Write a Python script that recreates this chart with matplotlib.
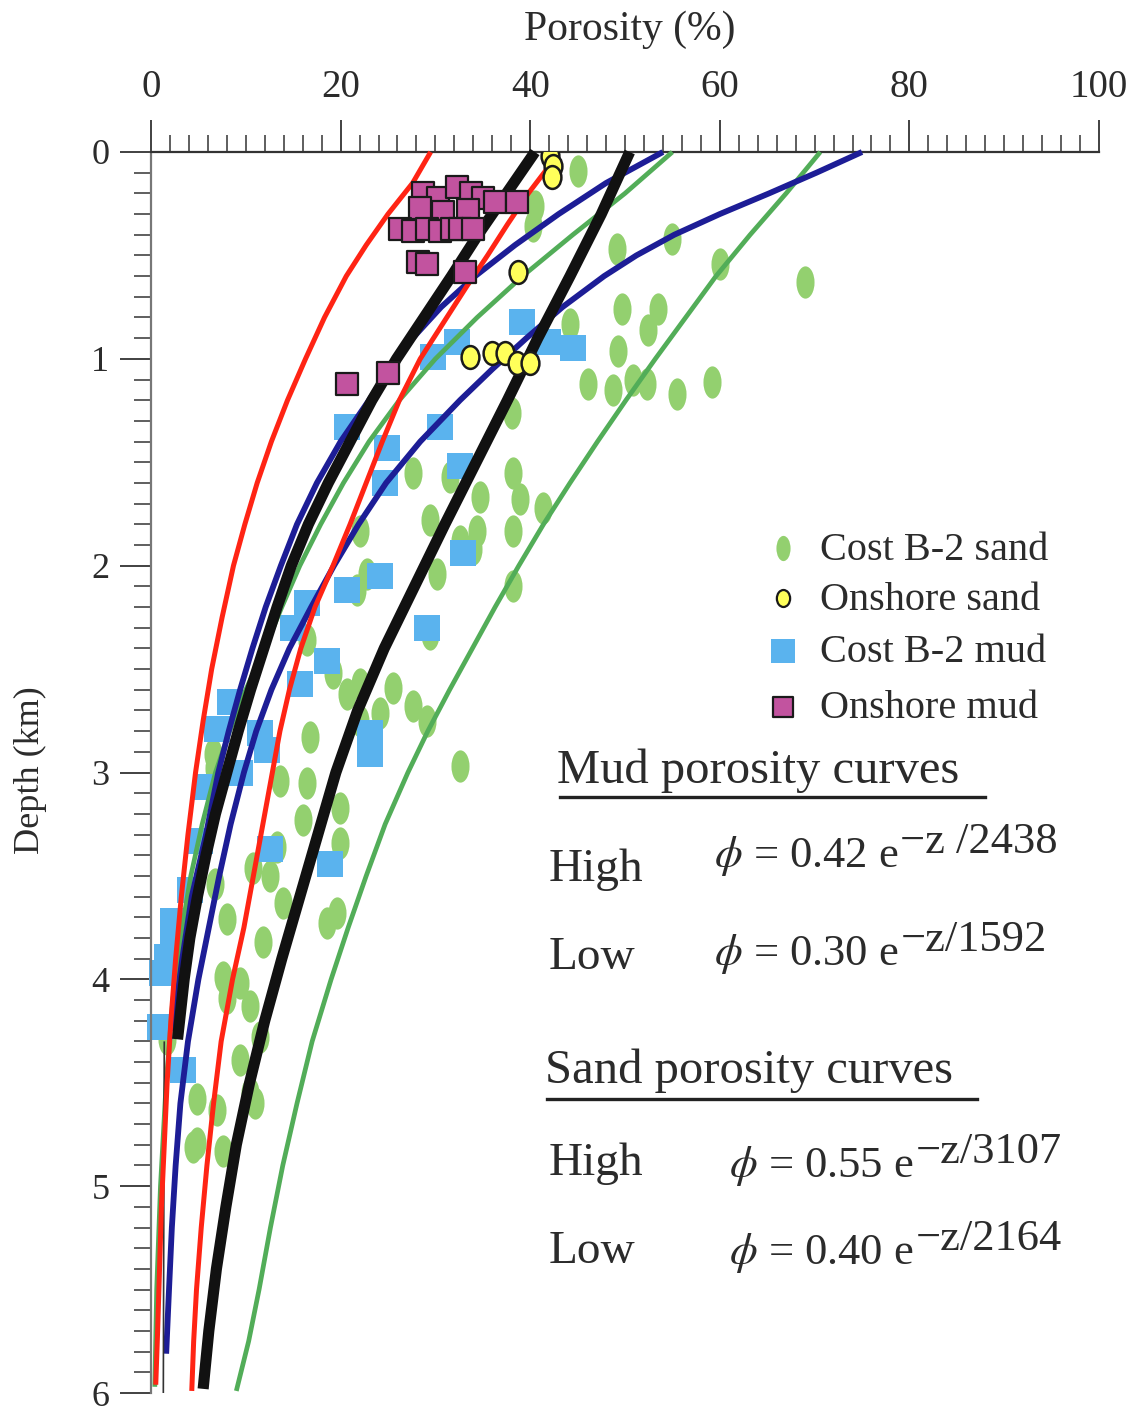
import matplotlib
matplotlib.use("Agg")
import matplotlib.pyplot as plt
from matplotlib.markers import MarkerStyle
from matplotlib.transforms import Affine2D

plt.rcParams['font.family'] = ['Liberation Serif', 'DejaVu Serif']
plt.rcParams['mathtext.fontset'] = 'stix'

TXT = '#2b2b2b'

# ---------------- data (porosity %, depth km) ----------------
red_a_z = [0, 0.15, 0.30, 0.45, 0.60, 0.80, 1.00, 1.20, 1.40, 1.60, 1.80, 2.00, 2.25, 2.50, 2.75, 3.00, 3.30, 3.60, 3.90, 4.20, 4.50, 4.80, 5.10, 5.40, 5.70, 5.96]
red_a_x = [29.5, 27.6, 25.0, 22.7, 20.6, 18.3, 16.3, 14.4, 12.7, 11.2, 9.9, 8.7, 7.5, 6.4, 5.5, 4.7, 3.9, 3.2, 2.6, 2.1, 1.7, 1.4, 1.1, 0.9, 0.7, 0.5]

red_b_z = [0.08, 0.20, 0.35, 0.50, 0.65, 0.80, 1.00, 1.20, 1.40, 1.60, 1.80, 2.00, 2.20, 2.40, 2.60, 2.80, 3.00, 3.25, 3.50, 3.75, 4.00, 4.30, 4.60, 4.90, 5.20, 5.50, 5.75, 5.99]
red_b_x = [41.8, 39.8, 37.6, 35.5, 33.3, 31.2, 28.4, 26.2, 24.4, 22.7, 21.0, 19.2, 17.3, 15.8, 14.6, 13.6, 12.8, 11.8, 10.8, 9.8, 8.6, 7.4, 6.6, 5.9, 5.3, 4.8, 4.5, 4.3]

black_a_z = [0, 0.20, 0.40, 0.60, 0.80, 1.00, 1.20, 1.40, 1.60, 1.80, 2.00, 2.20, 2.40, 2.60, 2.80, 3.00, 3.20, 3.40, 3.60, 3.80, 4.00, 4.29]
black_a_x = [40.5, 37.5, 34.5, 31.7, 28.8, 25.9, 23.3, 21.0, 18.7, 16.6, 14.8, 13.3, 11.9, 10.5, 9.2, 8.0, 6.8, 5.8, 4.9, 4.1, 3.5, 2.8]

black_b_z = [0, 0.30, 0.60, 0.90, 1.20, 1.50, 1.80, 2.10, 2.40, 2.70, 3.00, 3.30, 3.60, 3.90, 4.20, 4.50, 4.80, 5.10, 5.40, 5.70, 5.98]
black_b_x = [50.5, 47.5, 44.2, 40.8, 37.6, 34.3, 31.0, 27.8, 24.6, 21.8, 19.5, 17.6, 15.7, 13.8, 12.0, 10.4, 9.0, 7.9, 6.9, 6.1, 5.5]

blue_a_z = [0, 0.15, 0.30, 0.45, 0.60, 0.75, 0.90, 1.05, 1.20, 1.40, 1.60, 1.80, 2.00, 2.20, 2.40, 2.60, 2.80, 3.00, 3.30, 3.60, 3.90, 4.25]
blue_a_x = [54.0, 48.0, 43.0, 38.4, 34.2, 30.6, 27.6, 25.2, 23.0, 20.0, 17.5, 15.4, 13.7, 12.1, 10.7, 9.4, 8.2, 7.1, 5.8, 4.3, 3.3, 2.3]

blue_b_z = [0, 0.10, 0.20, 0.30, 0.40, 0.50, 0.60, 0.75, 0.90, 1.05, 1.20, 1.40, 1.60, 1.80, 2.00, 2.20, 2.40, 2.60, 2.80, 3.00, 3.25, 3.50, 3.75, 4.00, 4.30, 4.60, 4.90, 5.20, 5.50, 5.81]
blue_b_x = [75.0, 70.2, 65.2, 60.0, 55.2, 51.2, 47.8, 43.4, 39.6, 36.0, 32.6, 28.4, 24.8, 21.9, 19.3, 16.9, 14.6, 12.7, 11.1, 9.8, 8.4, 7.2, 6.1, 5.0, 3.9, 3.1, 2.6, 2.2, 1.9, 1.6]

green_a_z = [0, 0.20, 0.40, 0.60, 0.80, 1.00, 1.20, 1.40, 1.60, 1.80, 2.00, 2.20, 2.40, 2.60, 2.80, 3.00, 3.25, 3.50, 3.80, 4.10, 4.50, 5.00, 5.50, 5.97]
green_a_x = [55.0, 50.0, 44.5, 39.2, 34.4, 30.0, 26.2, 23.0, 20.3, 17.9, 15.7, 13.8, 12.0, 10.0, 8.3, 6.8, 5.4, 4.2, 3.1, 2.3, 1.6, 1.0, 0.6, 0.4]

green_b_z = [0, 0.20, 0.40, 0.60, 0.80, 1.00, 1.20, 1.40, 1.60, 1.80, 2.00, 2.20, 2.40, 2.60, 2.80, 3.00, 3.25, 3.50, 3.75, 4.00, 4.30, 4.60, 4.90, 5.20, 5.50, 5.75, 5.99]
green_b_x = [70.6, 67.0, 63.2, 59.6, 56.4, 53.2, 50.1, 47.1, 44.2, 41.4, 38.8, 36.3, 33.9, 31.5, 29.2, 27.1, 24.7, 22.7, 20.8, 19.0, 17.0, 15.4, 13.9, 12.6, 11.4, 10.3, 9.0]

thin_z = [4.30, 6.00]
thin_x = [1.4, 1.3]

# Cost B-2 sand
sand_b2_x = [45.0, 40.5, 40.3, 49.2, 55.0, 60.0, 69.0, 49.7, 53.5, 52.4, 44.2, 49.3, 46.1, 48.7, 50.8, 52.3, 55.5, 59.2, 38.1,
             27.6, 31.5, 38.2, 38.9, 34.7, 41.4, 29.4, 22.0, 34.4, 38.2, 32.6, 34.0, 22.8, 30.2, 38.2, 21.7, 29.4, 16.5,
             19.2, 22.0, 20.7, 25.5, 27.6, 29.1, 24.2, 16.8, 22.0, 32.6, 13.6, 16.5, 6.5, 6.6,
             19.9, 16.0, 19.9, 13.3, 12.6, 10.8, 6.8, 13.9, 19.6, 18.6, 8.0, 11.8, 7.6, 9.4, 10.4, 8.0, 11.5, 9.4, 10.4,
             4.9, 11.0, 7.0, 4.9, 4.4, 7.6, 1.7]
sand_b2_z = [0.09, 0.26, 0.36, 0.47, 0.42, 0.54, 0.63, 0.76, 0.76, 0.86, 0.83, 0.96, 1.12, 1.15, 1.10, 1.12, 1.17, 1.11, 1.26,
             1.55, 1.57, 1.55, 1.68, 1.67, 1.72, 1.78, 1.83, 1.83, 1.83, 1.88, 1.92, 2.04, 2.04, 2.10, 2.12, 2.33, 2.36,
             2.52, 2.57, 2.62, 2.59, 2.68, 2.75, 2.71, 2.83, 2.75, 2.97, 3.04, 3.05, 2.91, 2.98,
             3.17, 3.23, 3.34, 3.36, 3.50, 3.46, 3.54, 3.63, 3.68, 3.73, 3.71, 3.82, 3.99, 4.02, 4.13, 4.09, 4.28, 4.39, 4.55,
             4.58, 4.60, 4.63, 4.79, 4.81, 4.83, 4.29]

# Onshore sand
sand_on_x = [42.1, 42.4, 42.3, 38.7, 33.7, 36.0, 37.3, 38.6, 40.0]
sand_on_z = [0.02, 0.07, 0.12, 0.58, 0.99, 0.97, 0.97, 1.02, 1.02]

# Cost B-2 mud
mud_b2_x = [39.1, 41.9, 44.5, 32.3, 29.7, 20.7, 30.5, 24.9, 32.6, 24.7, 32.9, 24.2, 20.7, 16.5, 15.0, 18.6, 29.1, 15.7,
            8.3, 7.0, 11.5, 12.2, 23.1, 23.1, 5.9, 9.4, 5.2, 12.6, 18.9, 4.1, 2.3, 1.7, 0.9, 3.4, 2.3, 1.2]
mud_b2_z = [0.82, 0.92, 0.95, 0.92, 0.99, 1.33, 1.33, 1.43, 1.52, 1.60, 1.94, 2.05, 2.12, 2.18, 2.30, 2.46, 2.30, 2.57,
            2.66, 2.79, 2.81, 2.89, 2.81, 2.91, 3.07, 3.00, 3.33, 3.37, 3.44, 3.57, 3.80, 3.89, 4.23, 4.44, 3.72, 3.97]

# Onshore mud
mud_on_x = [28.7, 30.3, 32.3, 33.8, 35.0, 36.3, 38.6, 28.4, 30.8, 33.4, 26.3, 27.6, 29.1, 30.5, 31.7, 32.6, 34.0,
            28.2, 29.1, 33.1, 20.7, 25.0]
mud_on_z = [0.20, 0.22, 0.17, 0.20, 0.22, 0.24, 0.24, 0.27, 0.29, 0.28, 0.37, 0.38, 0.37, 0.38, 0.37, 0.37, 0.37,
            0.53, 0.54, 0.58, 1.12, 1.07]

legend_labels = ['Cost B-2 sand', 'Onshore sand', 'Cost B-2 mud', 'Onshore mud']
xticks = [0, 20, 40, 60, 80, 100]
yticks = [0, 1, 2, 3, 4, 5, 6]

# ---------------- figure ----------------
W, H = 1134, 1411
fig = plt.figure(figsize=(W / 100, H / 100), dpi=100)
fig.patch.set_facecolor('white')


def fx(px):
    return px / W


def fy(py):
    return 1 - py / H


ax = fig.add_axes([fx(151), fy(1393), fx(1099) - fx(151), fy(152) - fy(1393)])
ax.set_xlim(0, 100)
ax.set_ylim(6, 0)

for s in ['right', 'bottom']:
    ax.spines[s].set_visible(False)
ax.spines['top'].set_color('#333333')
ax.spines['top'].set_linewidth(1.6)
ax.spines['left'].set_color('#777777')
ax.spines['left'].set_linewidth(1.6)

ax.xaxis.set_ticks_position('top')
ax.set_xticks(xticks)
ax.set_xticks(range(0, 101, 2), minor=True)
ax.set_yticks(yticks)
ax.set_yticks([i / 10 for i in range(0, 61)], minor=True)
ax.tick_params(axis='x', which='major', direction='out', length=23, width=1.3, color='#333333',
               labelsize=28, labelcolor=TXT, pad=10)
ax.tick_params(axis='x', which='minor', direction='out', length=12, width=1.1, color='#333333')
ax.tick_params(axis='y', which='major', direction='out', length=22, width=1.3, color='#333333',
               labelsize=26, labelcolor=TXT, pad=8)
ax.tick_params(axis='y', which='minor', direction='out', length=12, width=1.1, color='#333333')
for lab in ax.get_yticklabels():
    lab.set_verticalalignment('center_baseline')

ell = MarkerStyle('o', transform=Affine2D().scale(0.56, 1.0))
ell_y = MarkerStyle('o', transform=Affine2D().scale(0.78, 1.0))

GREEN_PT = '#93d06f'
BLUE_PT = '#5ab3ee'
PINK_PT = '#c2539f'
YELLOW_PT = '#ffff5a'

ax.scatter(sand_b2_x, sand_b2_z, s=540, marker=ell, color=GREEN_PT, linewidths=0, zorder=2, clip_on=False)
ax.scatter(mud_b2_x, mud_b2_z, s=370, marker='s', color=BLUE_PT, linewidths=0, zorder=2, clip_on=False)

lw_c = dict(solid_capstyle='butt', solid_joinstyle='round', clip_on=False, zorder=3)
ax.plot(green_a_x, green_a_z, color='#52ad58', lw=3.4, **lw_c)
ax.plot(green_b_x, green_b_z, color='#52ad58', lw=3.4, **lw_c)
ax.plot(blue_a_x, blue_a_z, color='#1d1d96', lw=4.2, **lw_c)
ax.plot(blue_b_x, blue_b_z, color='#1d1d96', lw=4.2, **lw_c)
ax.plot(thin_x, thin_z, color='#333333', lw=1.2, **lw_c)
ax.plot(red_a_x, red_a_z, color='#ff2414', lw=3.6, **lw_c)
ax.plot(red_b_x, red_b_z, color='#ff2414', lw=3.6, **lw_c)
ax.plot(black_a_x, black_a_z, color='#111111', lw=8, **lw_c)
ax.plot(black_b_x, black_b_z, color='#111111', lw=8, **lw_c)

ax.scatter(mud_on_x, mud_on_z, s=230, marker='s', color=PINK_PT, edgecolors='#1a1a1a', linewidths=1.6, zorder=4)
ax.scatter(sand_on_x, sand_on_z, s=270, marker=ell_y, color=YELLOW_PT, edgecolors='#1a1a1a', linewidths=1.8, zorder=5)

# ---------------- axis titles ----------------
fig.text(fx(630), fy(30), 'Porosity (%)', fontsize=30, color=TXT, ha='center', va='center')
fig.text(fx(30), fy(770), 'Depth (km)', fontsize=26, color=TXT, ha='center', va='center', rotation=90)

# ---------------- legend (manual) ----------------
leg_y = [548, 598, 651, 707]
leg_styles = [dict(marker=ell, s=330, color=GREEN_PT, linewidths=0),
              dict(marker=ell_y, s=150, color=YELLOW_PT, edgecolors='#1a1a1a', linewidths=1.6),
              dict(marker='s', s=300, color=BLUE_PT, linewidths=0),
              dict(marker='s', s=200, color=PINK_PT, edgecolors='#1a1a1a', linewidths=1.6)]
for yy, lab, st in zip(leg_y, legend_labels, leg_styles):
    ax.scatter([fx(783)], [fy(yy)], transform=fig.transFigure, clip_on=False, zorder=6, **st)
    fig.text(fx(820), fy(yy + 2), lab, fontsize=29, color=TXT, ha='left', va='center')

# ---------------- equations ----------------
renderer = fig.canvas.get_renderer()
FS_EQ = 32


def formula(x_px, base_y, exp_y, base, expo):
    t = fig.text(fx(x_px), fy(base_y), base, fontsize=FS_EQ, color=TXT, ha='left', va='baseline')
    bb = t.get_window_extent(renderer)
    fig.text((bb.x1 + 2) / W, fy(exp_y), expo, fontsize=FS_EQ, color=TXT, ha='left', va='baseline')


fig.text(fx(557), fy(783), 'Mud porosity curves', fontsize=35, color=TXT, ha='left', va='baseline')
fig.add_artist(plt.Line2D([fx(560), fx(985)], [fy(797), fy(797)], color='#222222', lw=2.4))
fig.text(fx(549), fy(881), 'High', fontsize=34, color=TXT, ha='left', va='baseline')
formula(714, 867, 853, r'$\phi$ = 0.42 e', '\u2212z /2438')
fig.text(fx(549), fy(969), 'Low', fontsize=34, color=TXT, ha='left', va='baseline')
formula(714, 965, 951, r'$\phi$ = 0.30 e', '\u2212z/1592')

fig.text(fx(545), fy(1083), 'Sand porosity curves', fontsize=35, color=TXT, ha='left', va='baseline')
fig.add_artist(plt.Line2D([fx(547), fx(977)], [fy(1099), fy(1099)], color='#222222', lw=2.4))
fig.text(fx(549), fy(1175), 'High', fontsize=34, color=TXT, ha='left', va='baseline')
formula(729, 1177, 1163, r'$\phi$ = 0.55 e', '\u2212z/3107')
fig.text(fx(549), fy(1263), 'Low', fontsize=34, color=TXT, ha='left', va='baseline')
formula(729, 1264, 1250, r'$\phi$ = 0.40 e', '\u2212z/2164')

fig.savefig('out.png', dpi=100, facecolor='white')
